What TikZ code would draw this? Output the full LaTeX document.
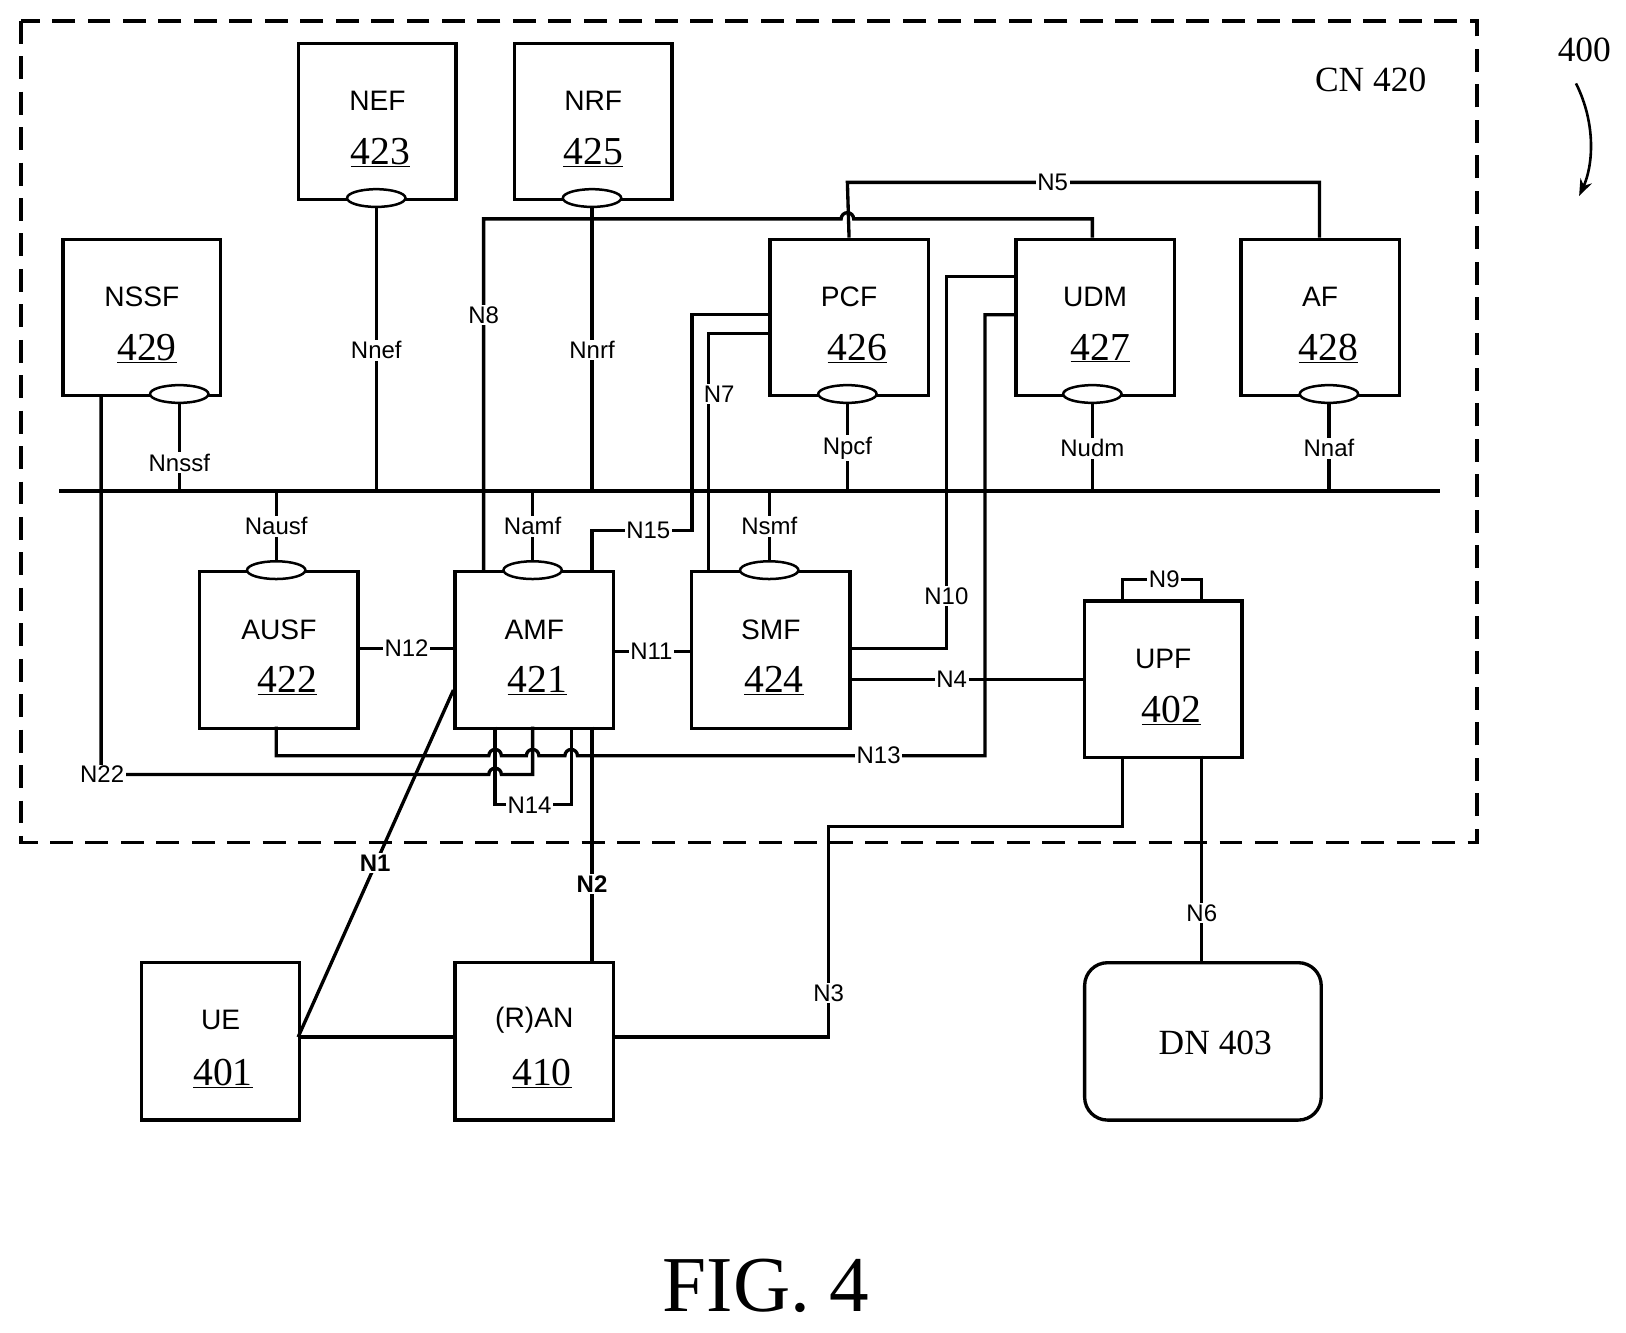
\documentclass[tikz,border=0pt]{standalone}
\usepackage{fontspec}
\setmainfont{Liberation Serif}
\setsansfont{Liberation Sans}
\usetikzlibrary{arrows.meta,shapes.geometric}
\begin{document}
\begin{tikzpicture}[x=1pt,y=-1pt,line width=3.2pt,
  box/.style={draw,rectangle,minimum width=152,minimum height=150,inner sep=0,anchor=north west},
  nm/.style={font=\fontsize{27}{27}\selectfont\sffamily},
  num/.style={font=\fontsize{38}{38}\selectfont},
  lb/.style={font=\fontsize{23}{23}\selectfont\sffamily,fill=white,inner sep=1.5pt},
  blb/.style={font=\fontsize{23}{23}\selectfont\sffamily\bfseries,fill=white,inner sep=1.5pt},
  ell/.style={draw,ellipse,minimum width=56,minimum height=17,inner sep=0,line width=2.4pt,fill=white}]
\useasboundingbox (0,0) rectangle (1560,1278);
\draw[dash pattern=on 22pt off 12pt] (20,20) rectangle (1417,808);
\node[font=\fontsize{34}{34}\selectfont] (cn) at (1315,77) {CN 420};
\node[font=\fontsize{34}{34}\selectfont] (t400) at (1520,48) {400};
\draw[line width=2.5pt,-{Stealth[length=16pt,width=12pt]}] (1512,80) .. controls (1532,120) and (1528,160) .. (1515,188);
\node[font=\fontsize{76}{76}\selectfont] (fig) at (735,1234) {FIG. 4};
% boxes
\newcommand\mybox[6]{\node[box,minimum width=#4,minimum height=#5] (#1) at (#2,#3) {};
  \node[nm] at ([yshift=-57]#1.north) {#6};}
\newcommand\mynum[3]{\node[num] at ([xshift=#2,yshift=-106]#1.north) {\underline{#3}};}
\mybox{NEF}{285}{40}{151}{150}{NEF}\mynum{NEF}{3}{423}
\mybox{NRF}{492}{40}{151}{150}{NRF}\mynum{NRF}{0}{425}
\mybox{NSSF}{59}{228}{151}{150}{NSSF}\mynum{NSSF}{5}{429}
\mybox{PCF}{737}{228}{152}{150}{PCF}\mynum{PCF}{8}{426}
\mybox{UDM}{973}{228}{152}{150}{UDM}\mynum{UDM}{5}{427}
\mybox{AF}{1189}{228}{152}{150}{AF}\mynum{AF}{8}{428}
\mybox{AUSF}{190}{547}{152}{150}{AUSF}\mynum{AUSF}{8}{422}
\mybox{AMF}{435}{547}{152}{150}{AMF}\mynum{AMF}{3}{421}
\mybox{SMF}{662}{547}{152}{150}{SMF}\mynum{SMF}{3}{424}
\node[box,minimum width=151,minimum height=150] (UPF) at (1039,575) {};
\node[nm] at (1116,632) {UPF};\node[num] at (1124,682) {\underline{402}};
\mybox{UE}{134}{922}{152}{151}{UE}\node[num] at (214,1030) {\underline{401}};
\mybox{RAN}{435}{922}{152}{151}{(R)AN}\node[num] at (520,1030) {\underline{410}};
\node[box,rounded corners=22pt,minimum width=227,minimum height=151] (DN) at (1039,922) {};
\node[font=\fontsize{34}{34}\selectfont] at (1166,1001) {DN 403};
% bus
\coordinate (busL) at (57,471); \coordinate (busR) at (1382,471);
\draw (busL) -- (busR);
% service interfaces
\foreach \b/\x/\t/\ly in {NEF/361/Nnef/336, NRF/568/Nnrf/336}{
  \draw (\x,190) -- (\x,471); \node[lb] at (\x,\ly) {\t};}
\draw (172,378) -- (172,471); \node[lb] at (172,444) {Nnssf};
\foreach \x/\t in {813/Npcf,1048/Nudm,1275/Nnaf}{
  \draw (\x,378) -- (\x,471); \node[lb] at (\x,430) {\t};}
\foreach \x/\t in {265/Nausf,511/Namf,738/Nsmf}{
  \draw (\x,471) -- (\x,547); \node[lb] at (\x,505) {\t};}
% N5
\draw (PCF.north) -- (813,175) -- (1266,175) -- (1266,228);
\node[lb] at (1010,175) {N5};
% N8
\draw (464,547) -- (464,210) -- (807,210) arc[start angle=180,end angle=360,radius=6] -- (1048,210) -- (1048,228);
\node[lb] at (464,302) {N8};
% N15
\draw (568,547) -- (568,509) -- (664,509) -- (664,302) -- (737,302);
\node[lb] at (622,509) {N15};
% N7
\draw (680,547) -- (680,320) -- (737,320);
\node[lb] at (690,378) {N7};
% N10
\draw (814,622) -- (908,622) -- (908,265) -- (973,265);
\node[lb] at (908,572) {N10};
% N13
\draw (265,697) -- (265,725) -- (469,725) arc[start angle=180,end angle=360,radius=6] -- (505,725) arc[start angle=180,end angle=360,radius=6] -- (542,725) arc[start angle=180,end angle=360,radius=6] -- (945,725) -- (945,302) -- (973,302);
\node[lb] at (843,725) {N13};
% N22
\draw (97,378) -- (97,743) -- (469,743) arc[start angle=180,end angle=360,radius=6] -- (511,743) -- (511,697);
\node[lb] at (98,743) {N22};
% N14
\draw (475,697) -- (475,772) -- (548,772) -- (548,697);
\node[lb] at (508,773) {N14};
% N2
\draw (568,697) -- (568,922);
\node[blb] at (568,848) {N2};
% N1
\draw (435,662) -- (286,995);
\node[blb] at (360,828) {N1};
% UE-RAN
\draw (286,995) -- (435,995);
% N3
\draw (587,995) -- (795,995) -- (795,793) -- (1077,793) -- (1077,725);
\node[lb] at (795,953) {N3};
% N6
\draw (1153,725) -- (1153,922);
\node[lb] at (1153,876) {N6};
% N9
\draw (1077,575) -- (1077,556) -- (1153,556) -- (1153,575);
\node[lb] at (1117,556) {N9};
% N4, N12, N11
\draw (814,652) -- (1039,652); \node[lb] at (913,652) {N4};
\draw (342,622) -- (435,622); \node[lb] at (390,622) {N12};
\draw (587,625) -- (662,625); \node[lb] at (625,625) {N11};
% ellipses
\foreach \x/\y in {361/190,568/190,172/378,813/378,1048/378,1275/378,265/547,511/547,738/547}
  \node[ell] at (\x,\y) {};
\end{tikzpicture}
\end{document}
